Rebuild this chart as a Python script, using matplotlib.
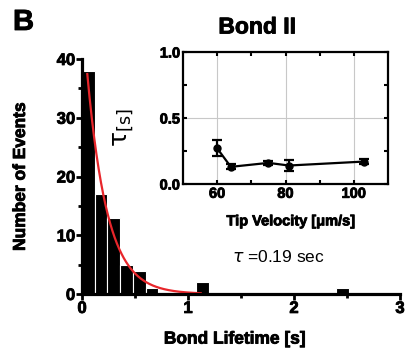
import numpy as np
import matplotlib.pyplot as plt
import matplotlib.patheffects as pe

plt.rcParams['font.family'] = ['Liberation Sans', 'DejaVu Sans']
plt.rcParams['mathtext.fontset'] = 'dejavusans'

# histogram of bond lifetimes (bin width 0.12 s)
bin_left = [0.0, 0.12, 0.24, 0.36, 0.48, 0.60, 1.08, 2.40]
counts = [38, 17, 13, 5, 4, 1, 2, 1]
bin_width = 0.12

# exponential fit
tau = 0.19
amp = 48.7
fit_start, fit_end = 0.05, 1.12

# inset: tau vs tip velocity
velocity = [60, 64, 75, 81, 103]
tau_vals = [0.27, 0.13, 0.16, 0.14, 0.17]
tau_err = [0.06, 0.02, 0.015, 0.045, 0.02]

heavy = [pe.withStroke(linewidth=0.6, foreground='black')]

fig = plt.figure(figsize=(4.09, 3.56), dpi=100)

ax = fig.add_axes([82/409, 1-294/356, (400-82)/409, (294-59)/356])
ax.bar(bin_left, counts, width=bin_width, align='edge', color='black',
       edgecolor='white', linewidth=0.8, zorder=2)
t = np.linspace(fit_start, fit_end, 200)
ax.plot(t, amp*np.exp(-t/tau), color='#e8262b', lw=1.6, zorder=3)
ax.set_xlim(0, 3)
ax.set_ylim(0, 40)
ax.set_xticks([0, 1, 2, 3])
ax.set_xticks([0.5, 1.5, 2.5], minor=True)
ax.set_yticks([0, 10, 20, 30, 40])
ax.set_yticks([5, 15, 25, 35], minor=True)
for s in ['top', 'right']:
    ax.spines[s].set_visible(False)
for s in ['left', 'bottom']:
    ax.spines[s].set_linewidth(2.3)
    ax.spines[s].set_zorder(4)
ax.tick_params(which='major', length=4, width=2, labelsize=12, pad=1)
ax.tick_params(which='minor', length=3, width=2)
for lab in ax.get_xticklabels() + ax.get_yticklabels():
    lab.set_fontweight('bold')
    lab.set_path_effects(heavy)
ax.set_xlabel('Bond Lifetime [s]', fontsize=12.5, fontweight='bold',
              va='top', path_effects=heavy)
ax.xaxis.set_label_coords(0.481, -0.16)
ax.set_ylabel('Number of Events', fontsize=12.5, fontweight='bold',
              path_effects=heavy)
ax.yaxis.set_label_coords(-0.17, 0.5)

fig.text(13/409, 1-30/356, 'B', fontsize=21, fontweight='bold',
         path_effects=heavy)
fig.text(257/409, 1-27/356, 'Bond II', fontsize=16.5, fontweight='bold',
         ha='center', va='center', path_effects=heavy)
fig.text(278/409, 1-257/356, r'$\tau$ =0.19 sec', fontsize=12.5,
         ha='center', va='center')

axi = fig.add_axes([183/409, 1-184/356, (388-183)/409, (184-52)/356])
axi.errorbar(velocity, tau_vals, yerr=tau_err, color='black', marker='o',
             markersize=5, lw=1.6, elinewidth=1.6, capsize=3.5, capthick=1.6)
axi.set_xlim(50, 110)
axi.set_ylim(0, 1)
axi.set_xticks([60, 80, 100])
axi.set_xticks([70, 90], minor=True)
axi.set_yticks([0, 0.5, 1.0])
axi.set_yticks([0.25, 0.75], minor=True)
axi.set_yticklabels(['0.0', '0.5', '1.0'])
axi.grid(True, which='major', color='#c8c8c8', lw=0.8)
for s in axi.spines.values():
    s.set_linewidth(1.6)
axi.tick_params(which='both', direction='in', top=True, right=True,
                length=3, width=1.5, labelsize=10.5, pad=2)
for lab in axi.get_xticklabels() + axi.get_yticklabels():
    lab.set_fontweight('bold')
    lab.set_path_effects(heavy)
axi.set_xlabel('Tip Velocity [\u03bcm/s]', fontsize=10.5, fontweight='bold',
               va='top', path_effects=heavy)
axi.xaxis.set_label_coords(0.527, -0.23)
axi.set_ylabel(r'$\mathrm{\tau}_{\mathrm{[s]}}$', fontsize=18)
axi.yaxis.set_label_coords(-0.235, 0.43)

fig.savefig('out.png', dpi=100)
